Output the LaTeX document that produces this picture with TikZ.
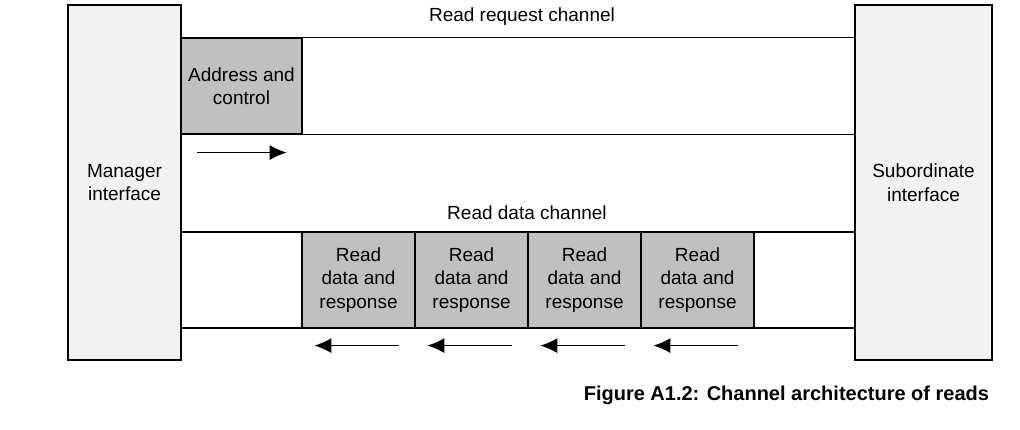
\documentclass[tikz,border=0pt]{standalone}
\usepackage{fontspec}
\setmainfont{Liberation Sans}
\usetikzlibrary{positioning,arrows.meta}
\definecolor{ifacegray}{HTML}{F2F2F2}
\definecolor{pktgray}{HTML}{C0C0C0}
\begin{document}
\begin{tikzpicture}[>={Latex[length=17pt,width=15pt]}, x=1pt, y=-1pt,
  font=\fontsize{19}{23.5}\selectfont, line width=1.2pt,
  iface/.style={draw, fill=ifacegray, minimum height=355pt, align=center, inner sep=0pt},
  pkt/.style={draw, fill=pktgray, minimum height=96pt, align=center, inner sep=0pt}]
 \useasboundingbox (0,0) rectangle (1020,430);
 \node[iface, minimum width=113pt] (mgr) at (124.5,182.5) {Manager\\interface};
 \node[iface, minimum width=137pt] (sub) at (923.5,182.5) {Subordinate\\interface};
 % read request channel
 \node[pkt, minimum width=121pt] (addr) at (241.5,86) {Address and\\control};
 \draw (addr.north east) -- (addr.north east -| sub.west);
 \draw (addr.south east) -- (addr.south east -| sub.west);
 \node (reqlbl) at (522,17) {Read request channel};
 \draw[->] ([shift={(17,18)}]addr.south west) -- ([shift={(-16,18)}]addr.south east);
 % read data channel
 \coordinate (dtop) at (181,232);
 \coordinate (dbot) at (181,328);
 \draw (dtop) -- (dtop -| sub.west);
 \draw (dbot) -- (dbot -| sub.west);
 \node (datalbl) at (527,213) {Read data channel};
 \foreach \i/\x in {1/358.5, 2/471.5, 3/584.5, 4/697.5} {
   \node[pkt, minimum width=113pt] (rd\i) at (\x,280) {Read\\data and\\response};
   \draw[->] ([shift={(-17,17)}]rd\i.south east) -- ([shift={(13,17)}]rd\i.south west);
 }
 \node[anchor=east, font=\fontsize{20}{22}\selectfont\bfseries] (cap) at (993,395) {Figure A1.2: Channel architecture of reads};
\end{tikzpicture}
\end{document}
